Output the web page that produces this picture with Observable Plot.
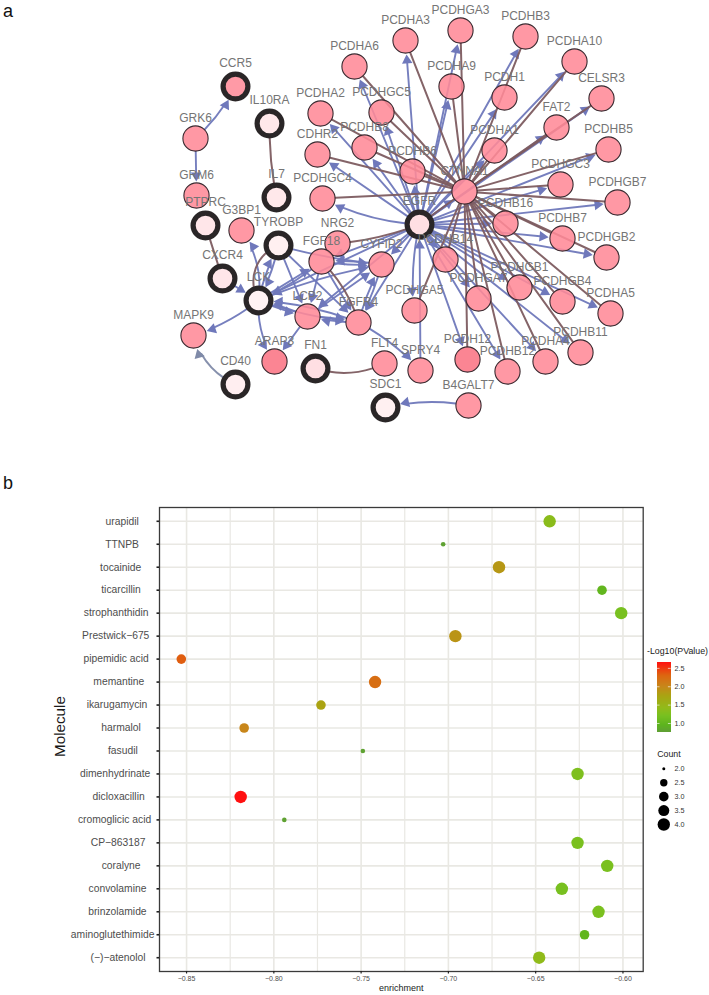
<!DOCTYPE html>
<html><head><meta charset="utf-8">
<script src="https://cdn.jsdelivr.net/npm/d3@7"></script>
<script src="https://cdn.jsdelivr.net/npm/@observablehq/plot@0.6"></script>
<style>
html,body{margin:0;padding:0;background:#fff;}
#page{position:relative;width:709px;height:995px;overflow:hidden;font-family:"Liberation Sans",Arial,sans-serif;}
#page>svg{position:absolute;}
.panel{position:absolute;left:3px;font-size:18px;line-height:18px;color:#111;}
</style></head><body>
<div id="page">
<div class="panel" style="top:2px">a</div>
<div class="panel" style="top:474px">b</div>
</div>
<script>
// ---------- panel a: network ----------
const nodeNames = ["CCR5","GRK6","IL10RA","GRM6","IL7","PCDHA6","PCDHA3","PCDHA2","PCDHGC5","PCDHB8","CDHR2","PCDHB6","PCDHGC4","EGFR","PCDHGA3","PCDHB3","PCDHA10","PCDHA9","PCDH1","CELSR3","FAT2","PCDHB5","PCDHA1","PCDHGC3","CTNNA1","PCDHGB7","PTPRC","G3BP1","TYROBP","NRG2","FGF18","CYFIP2","CXCR4","LCK","LCP2","FGFR4","MAPK9","PCDHGA5","ARAP3","FN1","FLT4","SPRY4","CD40","SDC1","PCDHB16","PCDHB7","PCDHGB2","PCDHB14","PCDHGB1","PCDHGA7","PCDHGB4","PCDHA5","PCDH12","PCDHB12","PCDHA4","PCDHB11","B4GALT7"];
const nodeX = [235,195,269,196,276,354,405,320,381,364,317,412,322,419,460,525,574,451,504,601,556,608,494,560,464,617,205,241,278,337,321,381,222,258,307,358,193,414,274,315,384,420,235,385,505,562,606,445,519,478,562,610,467,507,545,580,468];
const nodeY = [86,138,123,195,197,66,40,113,112,147,154,171,198,224,30,36,61,86,97,98,127,149,150,184,191,202,225,230,245,243,261,264,278,300,316,322,335,310,361,368,363,370,384,407,223,238,257,259,287,298,301,313,359,371,361,352,405];
const hubNames = ["CCR5","IL10RA","IL7","EGFR","PTPRC","TYROBP","CXCR4","LCK","FN1","CD40","SDC1"];
const hubFills = ["#ff9aa6","#ffe8ea","#ffe8ea","#ffdfe3","#ffe6e9","#fff0f1","#ffe6e9","#fff2f3","#ffdfe3","#ffeef0","#fff0f1"];
const darkNames = ["ARAP3","PCDH12"];

const egfrTargets = ["PCDHA3","PCDHGA3","PCDHB3","PCDHA10","PCDHA9","PCDH1","FAT2","CELSR3","PCDHB5","PCDHGC3","PCDHGB7","PCDHA6","PCDHGC5","PCDHB8","PCDHA2","CDHR2","PCDHB6","PCDHA1","PCDHB16","PCDHB7","PCDHGB2","PCDHGB1","PCDHGB4","PCDHA5","PCDHB11","PCDHA4","PCDHB12","PCDH12","PCDHGA7","PCDHB14","CTNNA1"];
const ctnnaTargets = ["PCDHA3","PCDHGA3","PCDHB3","PCDHA10","CELSR3","FAT2","PCDHB5","PCDHGC3","PCDHGB7","PCDHA6","PCDHGC5","PCDHA2","PCDHB8","CDHR2","PCDHGC4","PCDHB6","PCDHA1","PCDHA9","PCDHB7","PCDHGB2","PCDHB16","PCDHGB1","PCDHGB4","PCDHA5","PCDHB11","PCDHA4","PCDHB12","PCDH12","PCDHGA7","PCDHB14","EGFR"];
const blueExtra = [
 ["EGFR","PCDHGC4",12],["EGFR","PCDHGA5",-10],["SPRY4","EGFR",0],["EGFR","FGF18",0],["EGFR","CYFIP2",0],["EGFR","LCK",0],["EGFR","LCP2",0],["EGFR","FGFR4",0],
 ["TYROBP","CYFIP2",-5],["TYROBP","LCP2",0],["TYROBP","FGFR4",0],["TYROBP","LCK",8],["LCK","TYROBP",8],
 ["LCK","FGF18",0],["LCK","CYFIP2",6],["LCK","LCP2",-5],["LCK","FGFR4",-7],["FGF18","LCK",8],["FGF18","CYFIP2",-6],["CYFIP2","FGF18",-6],
 ["LCP2","LCK",-6],["LCP2","ARAP3",0],["LCP2","CYFIP2",0],["FGFR4","LCK",-9],["FGFR4","LCP2",6],["LCP2","FGFR4",6],["FGFR4","CYFIP2",7],["CYFIP2","FGFR4",7],
 ["FGF18","LCP2",0],["FGF18","FGFR4",0],["LCK","G3BP1",-22],["LCK","MAPK9",10],["LCK","ARAP3",-18],["FGFR4","SPRY4",10],["CXCR4","LCK",0],
 ["GRK6","CCR5",-10],["GRK6","GRM6",0],["B4GALT7","SDC1",-12]
];
const brownExtra = [
 ["PTPRC","CXCR4",0],["IL10RA","IL7",-6],["TYROBP","LCK",-50],["FGF18","FGFR4",15],["FN1","FLT4",-22],["EGFR","NRG2",8],["CTNNA1","PCDHGA5",0]
];
const greyExtra = [["CD40","MAPK9",25]];

const pos = new Map(nodeNames.map((n,i)=>[n,[nodeX[i],nodeY[i]]]));
const radiusOf = n => hubNames.includes(n) ? 15 : 14;
const nodes = nodeNames.map((n,i)=>({name:n,x:nodeX[i],y:nodeY[i]}));
const pink = nodes.filter(d=>!hubNames.includes(d.name));
const hubs = nodes.filter(d=>hubNames.includes(d.name)).map(d=>({...d,fill:hubFills[hubNames.indexOf(d.name)]}));

const toEdge = ([from,to,bend]) => ({from,to,bend,x1:pos.get(from)[0],y1:pos.get(from)[1],x2:pos.get(to)[0],y2:pos.get(to)[1]});
const blue = [...egfrTargets.map(t=>["EGFR",t,0]),...blueExtra].map(toEdge);
const brown = [...ctnnaTargets.map(t=>["CTNNA1",t,0]),...brownExtra].map(toEdge);
const grey = greyExtra.map(toEdge);

function edgeMarks(list,color,hasHead){
  const out=[];
  for(const [bend,rows] of d3.group(list,d=>d.bend)){
    out.push(Plot.arrow(rows,{x1:"x1",y1:"y1",x2:"x2",y2:"y2",bend,stroke:color,strokeWidth:hasHead?1.9:2,headLength:0,
      insetStart:13,insetEnd:hasHead?20:13,strokeOpacity:.95}));
  }
  if(hasHead){
    const heads=list.map(d=>{
      const a=Math.atan2(d.y2-d.y1,d.x2-d.x1)+d.bend*Math.PI/180;
      const back=radiusOf(d.to)+6;
      return {x:d.x2-back*Math.cos(a),y:d.y2-back*Math.sin(a),rotate:a*180/Math.PI+90};
    });
    out.push(Plot.dot(heads,{x:"x",y:"y",rotate:"rotate",symbol:"triangle",r:3.9,fill:color,stroke:"none"}));
  }
  return out;
}

const net = Plot.plot({
  width:709,height:470,margin:0,
  x:{domain:[0,709],axis:null},y:{domain:[470,0],axis:null},
  style:{fontFamily:'"Liberation Sans",Arial,sans-serif',background:"transparent"},
  marks:[
    ...edgeMarks(grey,"#7f8aa8",true),
    ...edgeMarks(blue,"#6f78bb",true),
    ...edgeMarks(brown,"#7d5c60",false),
    Plot.dot(pink,{x:"x",y:"y",r:12.6,fill:d=>darkNames.includes(d.name)?"#fb7484":"#ff8a97",fillOpacity:.88,stroke:"#3a2a30",strokeWidth:1.1}),
    Plot.dot(hubs,{x:"x",y:"y",r:12.4,fill:"fill",stroke:"#2a2627",strokeWidth:5.2}),
    Plot.text(pink,{x:"x",y:"y",text:"name",dy:-20,fontSize:12,fill:"#757575"}),
    Plot.text(hubs,{x:"x",y:"y",text:"name",dy:-23,fontSize:12,fill:"#757575"})
  ]
});
net.style.left="0";net.style.top="0";
document.getElementById("page").appendChild(net);

// ---------- panel b: dot plot ----------
const molecules = ["urapidil","TTNPB","tocainide","ticarcillin","strophanthidin","Prestwick\u2212675","pipemidic acid","memantine","ikarugamycin","harmalol","fasudil","dimenhydrinate","dicloxacillin","cromoglicic acid","CP\u2212863187","coralyne","convolamine","brinzolamide","aminoglutethimide","(\u2212)\u2212atenolol"];
const enrichment = [-0.642,-0.703,-0.671,-0.612,-0.601,-0.696,-0.853,-0.742,-0.773,-0.817,-0.749,-0.626,-0.819,-0.794,-0.626,-0.609,-0.635,-0.614,-0.622,-0.648];
const logP = [1.35,0.78,1.85,1.0,1.2,1.88,2.33,2.22,1.75,2.0,0.78,1.25,2.66,0.78,1.22,1.22,1.2,1.22,1.0,1.4];
const counts = [4,2,4,3,4,4,3,4,3,3,2,4,4,2,4,4,4,4,3,4];
const xTicks = [-0.85,-0.80,-0.75,-0.70,-0.65,-0.60];
const xMinor = [-0.825,-0.775,-0.725,-0.675,-0.625];
const colorDomain = [0.755,0.95,1.2,1.4,1.75,2.0,2.3,2.66];
const colorRange = ["#5f9f35","#5db41e","#78c020","#90bb1a","#aaa312","#c8861a","#dd6510","#ff1010"];
const countTicks = [2,2.5,3,3.5,4];
const countRadii = [2.3,3.7,4.8,5.5,6.2];
const pTicks = [1,1.5,2,2.5];

const rows = molecules.map((m,i)=>({m,e:enrichment[i],p:logP[i],c:counts[i]}));
const colorScale = d3.scaleLinear().domain(colorDomain).range(colorRange);
const rScale = d3.scaleLinear().domain(countTicks).range(countRadii);

const grid = "#e9e8e3";
const dots = Plot.plot({
  width:709,height:525,marginTop:37,marginBottom:24,marginLeft:159,marginRight:66.3,
  style:{fontFamily:'"Liberation Sans",Arial,sans-serif',background:"transparent"},
  x:{domain:[-0.8655,-0.5884]},
  y:{type:"point",domain:molecules,padding:0.6,round:false},
  marks:[
    Plot.ruleX(xMinor,{stroke:grid,strokeWidth:1.2}),
    Plot.ruleX(xTicks,{stroke:grid,strokeWidth:1.6}),
    Plot.ruleY(molecules,{stroke:grid,strokeWidth:1.6}),
    Plot.dot(rows,{x:"e",y:"m",r:{value:d=>rScale(d.c),scale:null},fill:d=>colorScale(d.p),stroke:"none"}),
    Plot.frame({stroke:"#3a3a3a",strokeWidth:1.3}),
    Plot.axisX({ticks:xTicks,tickFormat:d3.format(".2f"),tickSize:2.5,tickPadding:2,fontSize:7,label:null,stroke:"#222",strokeWidth:1.2,fill:"#4d4d4d"}),
    Plot.axisY({tickSize:2.5,tickPadding:6,fontSize:10.3,label:null,stroke:"#222",strokeWidth:1.6,fill:"#4d4d4d"}),
    Plot.text(["enrichment"],{frameAnchor:"bottom",dy:19.5,fontSize:9,fill:"#222"}),
    Plot.text(["Molecule"],{frameAnchor:"left",dx:-99,dy:-13,textAnchor:"middle",rotate:-90,fontSize:15.2,fill:"#1a1a1a"})
  ]
});
dots.style.left="0";dots.style.top="470px";
document.getElementById("page").appendChild(dots);
// y tick labels sit at about 69% of their own width around a common point, as in the reference
d3.select(dots).selectAll('g[aria-label="y-axis tick label"] text').each(function(){
  const w=this.getComputedTextLength();
  d3.select(this).attr("text-anchor","start").attr("dx",null);
  const t=this.getAttribute("transform")||"";
  const m=/translate\(([-\d.]+),([-\d.]+)\)/.exec(t);
  if(m) this.setAttribute("transform",`translate(${136.5-0.69*w},${m[2]})`);
  else {this.setAttribute("x",136.5-0.69*w);}
});

// colour legend
const steps = d3.range(70).map(i=>{const a=0.755+i*(2.66-0.755)/70,b=0.755+(i+1)*(2.66-0.755)/70;return {a,b};});
const cbar = Plot.plot({
  width:89,height:110,marginTop:32,marginBottom:8,marginLeft:0,marginRight:0,
  style:{fontFamily:'"Liberation Sans",Arial,sans-serif',background:"transparent"},
  x:{domain:[620,709],axis:null},y:{domain:[0.755,2.66],axis:null},
  marks:[
    Plot.rect(steps,{x1:656.7,x2:670.7,y1:"a",y2:d=>Math.min(2.66,d.b+0.04),fill:d=>colorScale((d.a+d.b)/2),shapeRendering:"crispEdges"}),
    Plot.ruleY(pTicks,{x1:656.7,x2:659.5,stroke:"#fff",strokeOpacity:.8,strokeWidth:.8}),
    Plot.ruleY(pTicks,{x1:667.9,x2:670.7,stroke:"#fff",strokeOpacity:.8,strokeWidth:.8}),
    Plot.text(pTicks,{x:674,y:d=>d,text:d3.format(".1f"),textAnchor:"start",fontSize:7.2,fill:"#333"}),
    Plot.text(["-Log10(PValue)"],{x:677,frameAnchor:"top",dy:-15,fontSize:8.8,fill:"#222"})
  ]
});
cbar.style.left="620px";cbar.style.top="630px";
document.getElementById("page").appendChild(cbar);

// size legend
const clegend = Plot.plot({
  width:89,height:100,marginTop:28.3,marginBottom:16,marginLeft:0,marginRight:0,
  style:{fontFamily:'"Liberation Sans",Arial,sans-serif',background:"transparent"},
  x:{domain:[620,709],axis:null},y:{type:"point",domain:countTicks,padding:0,round:false,axis:null},
  marks:[
    Plot.dot(countTicks,{x:663.3,y:d=>d,r:{value:d=>d==2?1.5:rScale(d),scale:null},fill:"#000",stroke:"none"}),
    Plot.text(countTicks,{x:674,y:d=>d,text:d3.format(".1f"),textAnchor:"start",fontSize:7.2,fill:"#333"}),
    Plot.text(["Count"],{x:656.7,frameAnchor:"top",dy:-18,textAnchor:"start",fontSize:8.8,fill:"#222"})
  ]
});
clegend.style.left="620px";clegend.style.top="740px";
document.getElementById("page").appendChild(clegend);
</script>
</body></html>
